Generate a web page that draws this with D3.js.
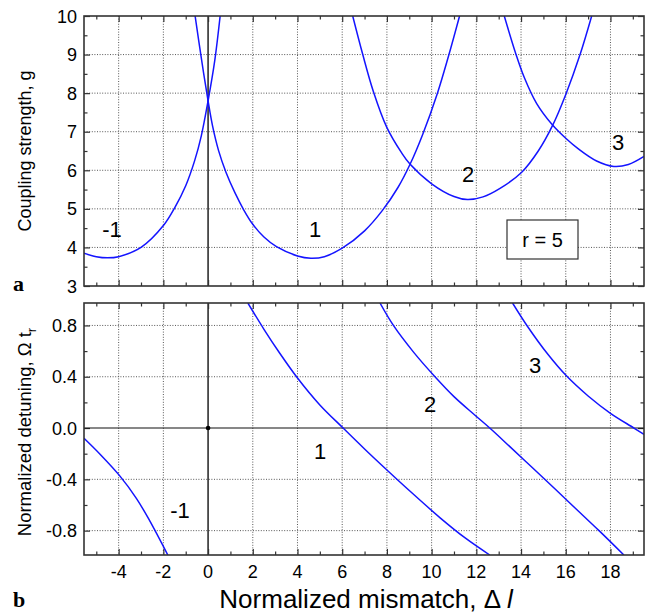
<!DOCTYPE html>
<html><head><meta charset="utf-8">
<script src="https://cdn.jsdelivr.net/npm/d3@7/dist/d3.min.js"></script>
<style>
body{margin:0;background:#fff}
svg text{font-family:"Liberation Sans",Arial,Helvetica,sans-serif;fill:#000}
</style>
</head><body>
<svg id="chart" width="650" height="613"></svg>
<script>
// ---------- data ----------
const xTicks = [-4,-2,0,2,4,6,8,10,12,14,16,18];
const xMinor = [-5,-3,-1,1,3,5,7,9,11,13,15,17,19];
const gTicks = [3,4,5,6,7,8,9,10];
const gMinor = [3.5,4.5,5.5,6.5,7.5,8.5,9.5];
const wTicks = [-0.8,-0.4,0.0,0.4,0.8];
const wTickLabels = ["-0.8","-0.4","0.0","0.4","0.8"];
const wMinor = [-0.6,-0.2,0.2,0.6];

// panel a : coupling strength g vs mismatch
const gM1_x = [-5.55,-5.0,-4.5,-4.0,-3.0,-1.98,-1.5,-1.0,-0.6,-0.3,0.0,0.3,0.54];
const gM1_g = [3.85,3.76,3.73,3.76,4.0,4.58,5.02,5.6,6.25,6.9,7.8,8.85,10.0];
const g1_x = [-0.58,-0.3,0.0,0.2,0.47,0.8,1.2,1.6,2.0,2.5,3.06,4.0,4.6,5.2,6.0,7.0,7.8,8.5,9.03,9.6,10.26,10.75,11.25];
const g1_g = [10.0,8.9,7.8,7.15,6.51,5.95,5.42,4.97,4.6,4.27,4.02,3.78,3.72,3.76,3.98,4.43,4.96,5.56,6.15,6.93,8.0,8.95,10.0];
const g2_x = [6.47,6.92,7.39,7.99,8.66,9.03,10.0,11.0,11.6,12.3,13.06,14.03,14.77,15.4,16.01,16.64,17.16];
const g2_g = [10.0,9.0,8.05,7.12,6.45,6.16,5.65,5.32,5.24,5.31,5.53,5.95,6.5,7.15,7.98,9.0,10.0];
const g3_x = [13.25,13.75,14.15,14.7,15.4,16.0,16.55,17.38,18.15,18.8,19.5];
const g3_g = [10.0,9.05,8.4,7.73,7.18,6.83,6.56,6.24,6.1,6.15,6.36];

// panel b : normalized detuning vs mismatch
const wM1_x = [-5.55,-4.8,-3.94,-3.2,-2.62,-1.8];
const wM1_w = [-0.08,-0.21,-0.375,-0.55,-0.72,-0.99];
const w1_x = [1.78,2.5,3.2,4.0,5.0,6.04,7.0,8.0,9.0,10.38,11.5,12.6];
const w1_w = [0.975,0.77,0.585,0.39,0.18,0.0,-0.163,-0.327,-0.487,-0.7,-0.857,-0.99];
const w2_x = [7.69,8.29,9.2,10.15,11.0,11.94,12.6,13.5,14.5,15.5,16.5,17.5,18.6];
const w2_w = [0.975,0.8,0.59,0.4,0.245,0.1,0.0,-0.145,-0.308,-0.472,-0.637,-0.802,-0.99];
const w3_x = [13.62,14.3,15.2,16.04,17.0,18.0,19.05,19.5];
const w3_w = [0.975,0.79,0.575,0.405,0.25,0.115,0.0,-0.05];

// ---------- layout ----------
const svg = d3.select("#chart");
const X0 = 84, X1 = 644;
const A = {top:16, bottom:286};
const B = {top:303, bottom:555};
const x = d3.scaleLinear().domain([-5.55,19.5]).range([X0,X1]);
const yA = d3.scaleLinear().domain([3,10]).range([A.bottom,A.top]);
const yB = d3.scaleLinear().domain([-0.99,0.975]).range([B.bottom,B.top]);

const gridColor = "#444", frameColor = "#333", blue = "#1414ff";

function panel(y, top, bottom, yMajor, yMinorV, id){
  const g = svg.append("g");
  g.append("clipPath").attr("id",id).append("rect")
    .attr("x",X0).attr("y",top).attr("width",X1-X0).attr("height",bottom-top);
  g.selectAll(null).data(xTicks.filter(d=>d!==0)).join("line")
    .attr("x1",d=>x(d)).attr("x2",d=>x(d)).attr("y1",top).attr("y2",bottom)
    .attr("stroke",gridColor).attr("stroke-width",0.9).attr("stroke-dasharray","1,1.6");
  g.selectAll(null).data(yMajor.filter(d=>y(d)>top+1 && y(d)<bottom-1 && Math.abs(d)>1e-9)).join("line")
    .attr("x1",X0).attr("x2",X1).attr("y1",d=>y(d)).attr("y2",d=>y(d))
    .attr("stroke",gridColor).attr("stroke-width",0.9).attr("stroke-dasharray","1,1.6");
  g.append("line").attr("x1",x(0)).attr("x2",x(0)).attr("y1",top).attr("y2",bottom)
    .attr("stroke","#111").attr("stroke-width",1.4);
  const mk = (axisFn, scale, vals, size, tx, ty) => {
    const ax = axisFn(scale).tickValues(vals).tickSize(size).tickFormat("");
    const ga = g.append("g").attr("transform",`translate(${tx},${ty})`).call(ax);
    ga.select(".domain").remove();
    ga.selectAll("line").attr("stroke",frameColor).attr("stroke-width",1.2);
  };
  mk(d3.axisBottom, x, xTicks, -6, 0, bottom);
  mk(d3.axisBottom, x, xMinor, -3.5, 0, bottom);
  mk(d3.axisTop, x, xTicks, -6, 0, top);
  mk(d3.axisTop, x, xMinor, -3.5, 0, top);
  mk(d3.axisLeft, y, yMajor, -6, X0, 0);
  mk(d3.axisLeft, y, yMinorV, -3.5, X0, 0);
  mk(d3.axisRight, y, yMajor, -6, X1, 0);
  mk(d3.axisRight, y, yMinorV, -3.5, X1, 0);
  return g;
}

function drawCurve(g, xs, ys, y, clipId){
  const pts = xs.map((d,i)=>[d,ys[i]]);
  const line = d3.line().x(d=>x(d[0])).y(d=>y(d[1])).curve(d3.curveCatmullRom.alpha(0.5));
  g.append("path").attr("d",line(pts)).attr("fill","none")
    .attr("stroke",blue).attr("stroke-width",1.5).attr("clip-path",`url(#${clipId})`);
}

// ---------- panel a ----------
const pa = panel(yA, A.top, A.bottom, gTicks, gMinor, "clipA");
drawCurve(pa, gM1_x, gM1_g, yA, "clipA");
drawCurve(pa, g1_x, g1_g, yA, "clipA");
drawCurve(pa, g2_x, g2_g, yA, "clipA");
drawCurve(pa, g3_x, g3_g, yA, "clipA");
pa.append("rect").attr("x",X0).attr("y",A.top).attr("width",X1-X0).attr("height",A.bottom-A.top)
  .attr("fill","none").attr("stroke",frameColor).attr("stroke-width",1.6);

pa.selectAll(null).data(gTicks).join("text")
  .attr("x",77).attr("y",d=>yA(d)+6.5).attr("text-anchor","end")
  .attr("font-size",18).text(d=>d);

const curveLabA = [["-1",112,229],["1",315,229],["2",468,174],["3",618,142]];
pa.selectAll(null).data(curveLabA).join("text")
  .attr("x",d=>d[1]).attr("y",d=>d[2]+8).attr("text-anchor","middle")
  .attr("font-size",22).text(d=>d[0]);

pa.append("rect").attr("x",507).attr("y",220).attr("width",71).attr("height",39)
  .attr("fill","#fff").attr("stroke","#333").attr("stroke-width",1.2);
pa.append("text").attr("x",542.5).attr("y",247).attr("text-anchor","middle")
  .attr("font-size",20).text("r = 5");

// ---------- panel b ----------
const pb = panel(yB, B.top, B.bottom, wTicks, wMinor, "clipB");
pb.append("line").attr("x1",X0).attr("x2",X1).attr("y1",yB(0)).attr("y2",yB(0))
  .attr("stroke","#111").attr("stroke-width",1.1);
drawCurve(pb, wM1_x, wM1_w, yB, "clipB");
drawCurve(pb, w1_x, w1_w, yB, "clipB");
drawCurve(pb, w2_x, w2_w, yB, "clipB");
drawCurve(pb, w3_x, w3_w, yB, "clipB");
pb.append("circle").attr("cx",x(0)).attr("cy",yB(0)).attr("r",2.3).attr("fill","#000");
pb.append("rect").attr("x",X0).attr("y",B.top).attr("width",X1-X0).attr("height",B.bottom-B.top)
  .attr("fill","none").attr("stroke",frameColor).attr("stroke-width",1.6);

pb.selectAll(null).data(wTicks).join("text")
  .attr("x",77).attr("y",d=>yB(d)+6.5).attr("text-anchor","end")
  .attr("font-size",18).text((d,i)=>wTickLabels[i]);
pb.selectAll(null).data(xTicks).join("text")
  .attr("x",d=>x(d)).attr("y",578).attr("text-anchor","middle")
  .attr("font-size",18).text(d=>d);

const curveLabB = [["-1",180,510],["1",320,451],["2",430,404],["3",535,365]];
pb.selectAll(null).data(curveLabB).join("text")
  .attr("x",d=>d[1]).attr("y",d=>d[2]+8).attr("text-anchor","middle")
  .attr("font-size",22).text(d=>d[0]);

// ---------- axis titles ----------
svg.append("text").attr("transform","translate(31,151) rotate(-90)")
  .attr("text-anchor","middle").attr("font-size",18).text("Coupling strength, g");
const yt = svg.append("text").attr("transform","translate(31,432) rotate(-90)")
  .attr("text-anchor","middle").attr("font-size",18.5);
yt.append("tspan").text("Normalized detuning, \u03A9 t");
yt.append("tspan").attr("dy",5).attr("font-size",13).text("r");

const xt = svg.append("text").attr("x",366).attr("y",608).attr("text-anchor","middle").attr("font-size",26);
xt.append("tspan").text("Normalized mismatch, \u0394 ");
xt.append("tspan").attr("font-style","italic").text("l");

svg.append("text").attr("x",13).attr("y",291)
  .style("font-family","'Liberation Serif','Times New Roman',serif")
  .attr("font-weight","bold").attr("font-size",22).text("a");
svg.append("text").attr("x",13).attr("y",607)
  .style("font-family","'Liberation Serif','Times New Roman',serif")
  .attr("font-weight","bold").attr("font-size",22).text("b");
</script>
</body></html>
